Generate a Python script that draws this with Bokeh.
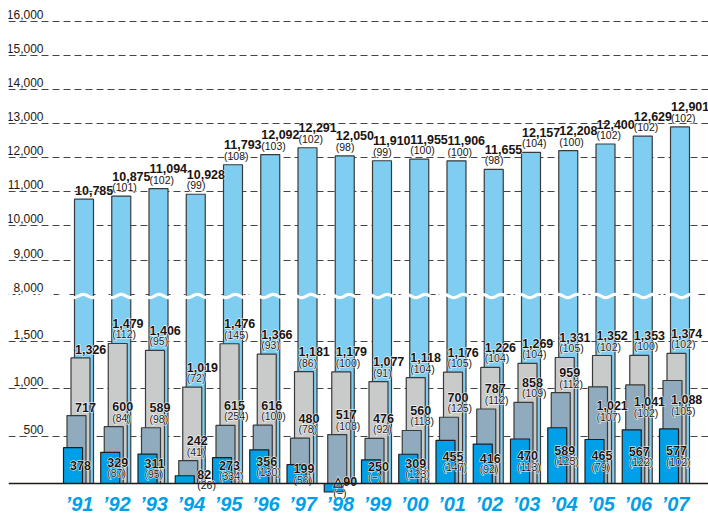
import numpy as np
from bokeh.plotting import figure
from bokeh.models import Range1d, ColumnDataSource, Span, Grid, FixedTicker
from bokeh.core.properties import value
from bokeh.embed import file_html
from bokeh.resources import INLINE

# ---------------- data ----------------
years = ["’91", "’92", "’93", "’94", "’95", "’96", "’97", "’98", "’99",
         "’00", "’01", "’02", "’03", "’04", "’05", "’06", "’07"]

total = [10785, 10875, 11094, 10928, 11793, 12092, 12291, 12050, 11910,
         11955, 11906, 11655, 12157, 12208, 12400, 12629, 12901]
total_idx = [None, "(101)", "(102)", "(99)", "(108)", "(103)", "(102)", "(98)", "(99)",
             "(100)", "(100)", "(98)", "(104)", "(100)", "(102)", "(102)", "(102)"]

series_b = [1326, 1479, 1406, 1019, 1476, 1366, 1181, 1179, 1077,
            1118, 1176, 1226, 1269, 1331, 1352, 1353, 1374]
series_b_idx = [None, "(112)", "(95)", "(72)", "(145)", "(93)", "(86)", "(100)", "(91)",
                "(104)", "(105)", "(104)", "(104)", "(105)", "(102)", "(100)", "(102)"]

series_c = [717, 600, 589, 242, 615, 616, 480, 517, 476,
            560, 700, 787, 858, 959, 1021, 1041, 1088]
series_c_idx = [None, "(84)", "(98)", "(41)", "(254)", "(100)", "(78)", "(108)", "(92)",
                "(118)", "(125)", "(112)", "(109)", "(112)", "(107)", "(102)", "(105)"]

series_d = [378, 329, 311, 82, 273, 356, 199, -90, 250,
            309, 455, 416, 470, 589, 465, 567, 577]
series_d_idx = [None, "(87)", "(95)", "(26)", "(334)", "(130)", "(56)", "(−)", "(−)",
                "(123)", "(147)", "(92)", "(113)", "(125)", "(79)", "(122)", "(102)"]

upper_ticks = [16000, 15000, 14000, 13000, 12000, 11000, 10000, 9000, 8000]
lower_ticks = [1500, 1000, 500]

# ---------------- layout (page pixels) ----------------
W, H = 708, 515
LEFT = 8                        # frame starts here
X0, STEP = 78.0, 37.25          # page x of first group centre, group spacing
BASE = 483.0                    # page y of zero line
PXU = 142.0 / 1500.0            # px per unit, lower panel
UPX = 273.0 / 8000.0            # px per unit, upper panel
BREAK_LOW, BREAK_HIGH = 2000.0, 8000.0
PX_X = 1.0 / STEP
PX_Y = 1.0 / PXU


def ymap(v):
    return v if v < BREAK_HIGH else BREAK_LOW + (v - BREAK_HIGH) * UPX / PXU


def xpage(px):
    return (px - X0) / STEP


n = len(years)
idx = np.arange(n)

p = figure(width=W, height=H, output_backend="svg", toolbar_location=None,
           x_axis_type=None, y_axis_type=None,
           x_range=Range1d(xpage(LEFT), xpage(W)),
           y_range=Range1d(-(H - BASE) / PXU, BASE / PXU),
           min_border=0, min_border_left=LEFT, outline_line_color=None)
p.background_fill_color = "white"

# grid lines
grid_vals = [ymap(v) for v in upper_ticks if v > BREAK_HIGH] + lower_ticks
p.add_layout(Grid(dimension=1, ticker=FixedTicker(ticks=grid_vals),
                  grid_line_color="#444444", grid_line_dash="7 4", grid_line_width=1))
p.add_layout(Grid(dimension=1, ticker=FixedTicker(ticks=[ymap(BREAK_HIGH)]),
                  grid_line_color="#444444", grid_line_dash="7 3 2 3", grid_line_width=1))

BAR_W = 19 * PX_X
colors = ["#7FCDF0", "#C9CACA", "#90ABBD", "#00A0E9"]
outlines = ["#3a3a3a", "#3a3a3a", "#3a3a3a", "#1e1e1e"]
offsets = [5.5, 2.0, -2.0, -5.5]
series = [total, series_b, series_c, series_d]
for vals, col, oc, off in zip(series, colors, outlines, offsets):
    src = ColumnDataSource(dict(x=idx + off * PX_X, top=[ymap(v) for v in vals]))
    p.vbar(x="x", top="top", bottom=0, width=BAR_W, source=src,
           fill_color=col, line_color=oc, line_width=1.2)

# break wave
wx = np.linspace(xpage(LEFT), xpage(W), 900)
wave_c = (BASE - 295.5) * PX_Y
wy = wave_c + 1.6 * PX_Y * np.sin(2 * np.pi * (wx * STEP) / 19.0)
p.line(wx, wy, line_color="white", line_width=3.2)

p.add_layout(Span(location=0, dimension="width", line_color="#231815", line_width=1.6))

# y tick labels
tick_vals = upper_ticks + lower_ticks
p.text(x=[xpage(43)] * len(tick_vals),
       y=[ymap(v) + 7 * PX_Y for v in tick_vals],
       text=[f"{v:,}" for v in tick_vals],
       text_align="right", text_baseline="middle",
       text_font=value("Liberation Sans"), text_font_size="12px", text_color="#231815")


def fmt(v):
    return f"{v:,}" if v >= 0 else "△" + f"{-v:,}"


nums = dict(x=[], y=[], t=[])
pars = dict(x=[], y=[], t=[])


def add(store, x, y, t):
    store["x"].append(x); store["y"].append(y); store["t"].append(t)


def above_labels(vals, idxs, shift_px):
    for i, (v, s, sh) in enumerate(zip(vals, idxs, shift_px)):
        top = ymap(v)
        x = i - 3.5 * PX_X
        if s is None:
            add(nums, x, top + (8.5 + sh) * PX_Y, fmt(v))
        else:
            add(nums, x, top + (20 + sh) * PX_Y, fmt(v))
            add(pars, x, top + (9 + sh) * PX_Y, s)


zero_shift = [0] * n
c_shift = [0] * 14 + [-39, -37, -39]
above_labels(total, total_idx, zero_shift)
above_labels(series_b, series_b_idx, zero_shift)
above_labels(series_c, series_c_idx, c_shift)

# labels inside the front bars (vertically centred on the bar)
d_xshift = [0, 0, 0, 15.5, 0, 0, 0, 2.5, 0, 0, 0, 0, 0, 0, 0, 0, 0]
for i, (v, s, sh) in enumerate(zip(series_d, series_d_idx, d_xshift)):
    mid = ymap(v) / 2.0
    x = i + (-8.5 + sh) * PX_X
    if s is None:
        add(nums, x, mid, fmt(v))
    else:
        add(nums, x, mid + 5.5 * PX_Y, fmt(v))
        add(pars, x, mid - 5.5 * PX_Y, s)

NUM = dict(text_font=value("Liberation Sans"), text_font_style="bold",
           text_font_size="12.5px", text_align="left", text_baseline="middle")
PAR = dict(text_font=value("Liberation Sans"), text_font_size="10.5px",
           text_align="left", text_baseline="middle")

# white halo underneath, then dark text on top
for store, st in ((nums, NUM), (pars, PAR)):
    p.text(x=store["x"], y=store["y"], text=store["t"], text_color="white",
           text_outline_color="white", **st)
for store, st in ((nums, NUM), (pars, PAR)):
    p.text(x=store["x"], y=store["y"], text=store["t"], text_color="#1a1311", **st)

# x category labels
p.text(x=idx + 1.0 * PX_X, y=[-(503.5 - BASE) * PX_Y] * n, text=years,
       text_align="center", text_baseline="middle",
       text_font=value("Liberation Sans"), text_font_style="bold italic",
       text_font_size="20px", text_color="#00A0E9")

open("out.html", "w").write(file_html(p, INLINE))
